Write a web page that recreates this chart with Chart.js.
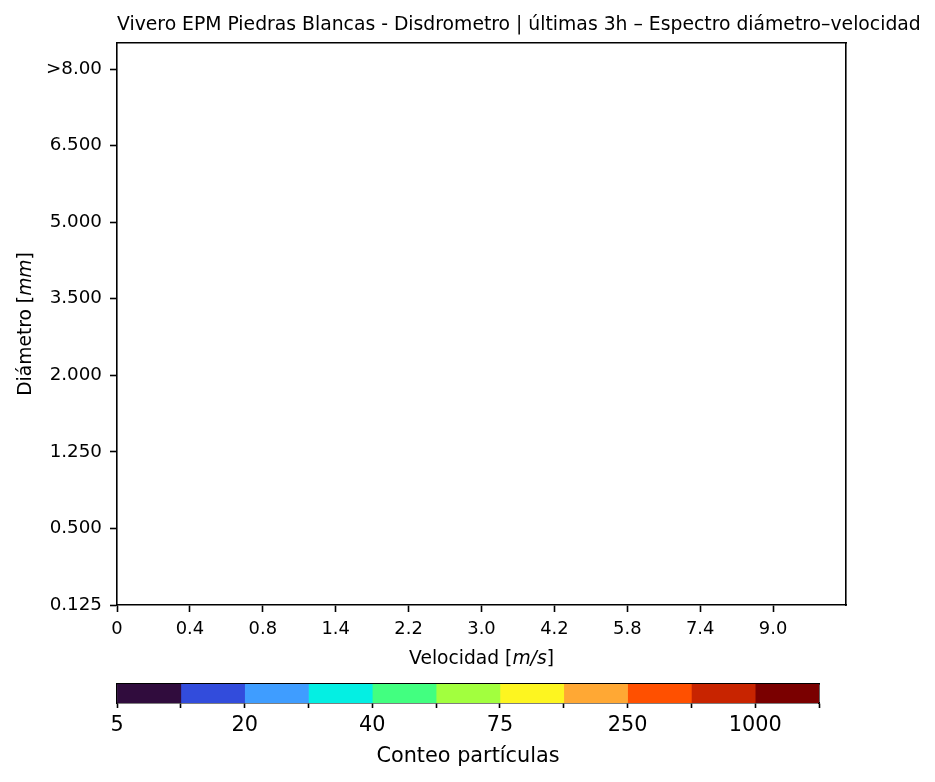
<!DOCTYPE html>
<html>
<head>
<meta charset="utf-8">
<script src="https://cdn.jsdelivr.net/npm/chart.js@4.4.1/dist/chart.umd.min.js"></script>
<style>
  html, body { margin: 0; padding: 0; background: #fff; }
  #wrap { position: relative; width: 935px; height: 782px; }
  canvas { position: absolute; left: 0; }
  #spectrum { top: 0; }
  #colorbar { top: 670px; }
</style>
</head>
<body>
<div id="wrap">
  <canvas id="spectrum" width="935" height="680"></canvas>
  <canvas id="colorbar" width="935" height="112"></canvas>
</div>
<script>
// --- data ---
var title = "Vivero EPM Piedras Blancas - Disdrometro | últimas 3h – Espectro diámetro–velocidad";
var velocityTicks = ["0", "0.4", "0.8", "1.4", "2.2", "3.0", "4.2", "5.8", "7.4", "9.0"];
var diameterTicks = ["0.125", "0.500", "1.250", "2.000", "3.500", "5.000", "6.500", ">8.00"];
var spectrumPoints = [];   // no particles counted in the last 3h
var countColors = ["#300c3d", "#324cdc", "#3f9dff", "#04efe3", "#42ff80", "#a2ff3e",
                   "#fdf520", "#ffa834", "#ff5000", "#c82400", "#7a0000"];
var countTicks = ["5", "", "20", "", "40", "", "75", "", "250", "", "1000", ""];

var FONT = "'DejaVu Sans', sans-serif";
var black = "#000";

// draws text made of plain / italic pieces
function mixedText(ctx, parts, x, y, size, angle) {
  ctx.save();
  ctx.translate(x, y);
  if (angle) ctx.rotate(angle);
  ctx.textBaseline = "middle";
  ctx.textAlign = "left";
  ctx.fillStyle = black;
  var w = 0;
  parts.forEach(function(p){
    ctx.font = (p[1] ? "italic " : "") + size + "px " + FONT;
    w += ctx.measureText(p[0]).width;
  });
  var cx = -w / 2;
  parts.forEach(function(p){
    ctx.font = (p[1] ? "italic " : "") + size + "px " + FONT;
    ctx.fillText(p[0], cx, 0);
    cx += ctx.measureText(p[0]).width;
  });
  ctx.restore();
}

var labelsPlugin = {
  id: "labels",
  afterDraw: function(chart){
    var ctx = chart.ctx, a = chart.chartArea;
    ctx.save();
    ctx.font = "18.8px " + FONT;
    ctx.fillStyle = black;
    ctx.textBaseline = "middle";
    ctx.textAlign = "left";
    ctx.fillText(title, a.left, a.top - 18);
    ctx.restore();
    mixedText(ctx, [["Velocidad [", false], ["m/s", true], ["]", false]],
      (a.left + a.right) / 2, a.bottom + 54, 18.7, 0);
    mixedText(ctx, [["Diámetro [", false], ["mm", true], ["]", false]],
      26, (a.top + a.bottom) / 2, 18.7, -Math.PI / 2);
  }
};

function boxAxis(pos, size) {
  return {
    position: pos,
    type: "linear",
    display: true,
    ticks: { display: false },
    grid: { display: false },
    border: { display: true, color: black, width: 1.6 },
    afterFit: function(s){ if (pos === "top" || pos === "bottom") s.height = size; else s.width = size; }
  };
}

new Chart(document.getElementById("spectrum"), {
  type: "scatter",
  data: { datasets: [{ label: "conteo", data: spectrumPoints, pointRadius: 3 }] },
  options: {
    responsive: false,
    animation: false,
    layout: { padding: { top: 43, right: 89, left: 0, bottom: 0 } },
    plugins: { legend: { display: false }, tooltip: { enabled: false } },
    scales: {
      x: {
        type: "linear", position: "bottom", min: 0, max: 10,
        afterBuildTicks: function(s){ s.ticks = velocityTicks.map(function(_, i){ return { value: i }; }); },
        ticks: {
          autoSkip: false, maxRotation: 0, padding: 7, color: black,
          font: { family: FONT, size: 17.9 },
          callback: function(v){ return velocityTicks[v]; }
        },
        grid: { drawOnChartArea: false, drawTicks: true, tickLength: 7, tickColor: black, tickWidth: 1.6 },
        border: { color: black, width: 1.6 },
        afterFit: function(s){ s.height = 75; }
      },
      y: {
        type: "linear", position: "left", min: 0, max: 7.34,
        afterBuildTicks: function(s){ s.ticks = diameterTicks.map(function(_, i){ return { value: i }; }); },
        ticks: {
          autoSkip: false, padding: 8, color: black,
          font: { family: FONT, size: 18.3 },
          callback: function(v){ return diameterTicks[v]; }
        },
        grid: { drawOnChartArea: false, drawTicks: true, tickLength: 7, tickColor: black, tickWidth: 1.6 },
        border: { color: black, width: 1.6 },
        afterFit: function(s){ s.width = 117; }
      },
      x2: boxAxis("top", 0),
      y2: boxAxis("right", 0)
    }
  },
  plugins: [labelsPlugin]
});

// colorbar: one stacked horizontal bar, one segment per count class
new Chart(document.getElementById("colorbar"), {
  type: "bar",
  data: {
    labels: ["Conteo"],
    datasets: countColors.map(function(c){
      return { data: [1], backgroundColor: c, borderWidth: 0, categoryPercentage: 1, barPercentage: 1 };
    })
  },
  options: {
    indexAxis: "y",
    responsive: false,
    animation: false,
    layout: { padding: { top: 14, right: 116, left: 0, bottom: 0 } },
    plugins: { legend: { display: false }, tooltip: { enabled: false } },
    scales: {
      x: {
        type: "linear", stacked: true, position: "bottom", min: 0, max: countColors.length,
        afterBuildTicks: function(s){ s.ticks = countTicks.map(function(_, i){ return { value: i }; }); },
        ticks: {
          autoSkip: false, maxRotation: 0, padding: 5, color: black,
          font: { family: FONT, size: 20.8 },
          callback: function(v){ return countTicks[v]; }
        },
        grid: { drawOnChartArea: false, drawTicks: true, tickLength: 5, tickColor: black, tickWidth: 1.6 },
        border: { color: black, width: 1.6 },
        title: { display: true, text: "Conteo partículas", color: black,
                 font: { family: FONT, size: 20.8 }, padding: { top: 0, bottom: 13 } },
        afterFit: function(s){ s.height = 79; }
      },
      y: {
        type: "category", stacked: true, position: "left",
        ticks: { display: false },
        grid: { display: false },
        border: { display: true, color: black, width: 1.6 },
        afterFit: function(s){ s.width = 117; }
      },
      x2: boxAxis("top", 0),
      y2: boxAxis("right", 0)
    }
  }
});
</script>
</body>
</html>
